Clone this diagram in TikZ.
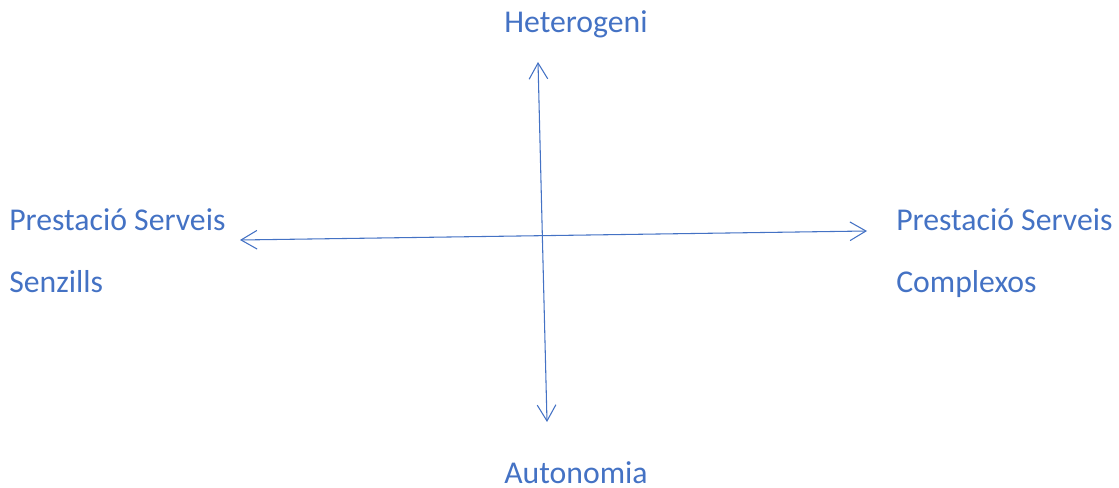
\documentclass[tikz,border=0pt]{standalone}
\usepackage{fontspec}
\setmainfont{Carlito}
\usetikzlibrary{arrows.meta}
\definecolor{axisblue}{HTML}{4472C4}
\begin{document}
\begin{tikzpicture}[x=0.75pt,y=-0.75pt,
  label text/.style={text=axisblue,inner sep=0pt,font=\fontsize{23.8}{28}\selectfont},
  axis arrow/.style={draw=axisblue,line width=0.8pt,
    {Straight Barb[length=12pt,width=14pt,line width=0.8pt]}-{Straight Barb[length=12pt,width=14pt,line width=0.8pt]}}]
  \useasboundingbox (0,0) rectangle (1119,488);
  % axis end points
  \coordinate (top) at (538,62);
  \coordinate (bottom) at (547,422);
  \coordinate (left) at (240,240);
  \coordinate (right) at (867,231);
  % axes
  \draw[axis arrow] (top) -- (bottom);
  \draw[axis arrow] (left) -- (right);
  % labels
  \node[label text,anchor=base] (het) at (576,33) {Heterogeni};
  \node[label text,anchor=base] (aut) at (576,483) {Autonomia};
  \node[label text,anchor=base west] (ls1) at (9,230) {Prestació Serveis};
  \node[label text,anchor=base west] (ls2) at (9,292) {Senzills};
  \node[label text,anchor=base west] (rs1) at (896,230) {Prestació Serveis};
  \node[label text,anchor=base west] (rs2) at (896,292) {Complexos};
\end{tikzpicture}
\end{document}
